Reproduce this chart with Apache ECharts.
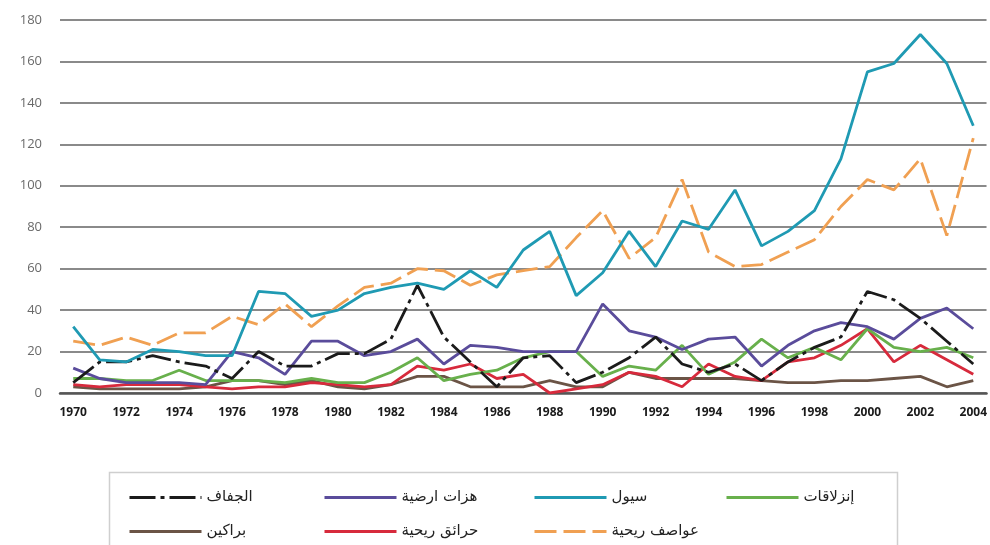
<!DOCTYPE html>
<html>
<head>
<meta charset="utf-8">
<script src="https://cdn.jsdelivr.net/npm/echarts@6/dist/echarts.min.js"></script>
<style>html,body{margin:0;padding:0;background:#fff;}#c{width:990px;height:545px;}</style>
</head>
<body>
<div id="c"></div>
<script>
const years = ['1970','1971','1972','1973','1974','1975','1976','1977','1978','1979','1980','1981','1982','1983','1984','1985','1986','1987','1988','1989','1990','1991','1992','1993','1994','1995','1996','1997','1998','1999','2000','2001','2002','2003','2004'];
const yTicks = [0, 20, 40, 60, 80, 100, 120, 140, 160, 180];
const drought   = [5,15,15,18,15,13,7,20,13,13,19,19,26,52,27,15,3,17,18,5,10,17,27,14,10,14,6,15,22,27,49,45,36,25,14];
const quakes    = [12,7,5,5,5,4,20,17,9,25,25,18,20,26,14,23,22,20,20,20,43,30,27,21,26,27,13,23,30,34,32,26,36,41,31];
const floods    = [32,16,15,21,20,18,18,49,48,37,40,48,51,53,50,59,51,69,78,47,58,78,61,83,79,98,71,78,88,113,155,159,173,159,129];
const landslides= [7,7,6,6,11,6,6,6,5,7,5,5,10,17,6,9,11,17,20,20,8,13,11,23,9,15,26,17,22,16,31,22,20,22,17];
const volcanoes = [3,2,2,2,2,3,6,6,4,6,3,2,4,8,8,3,3,3,6,3,3,10,7,7,7,7,6,5,5,6,6,7,8,3,6];
const fires     = [4,3,4,4,4,3,2,3,3,5,4,3,4,13,11,14,7,9,0,2,4,10,8,3,14,8,6,15,17,23,31,15,23,16,9];
const storms    = [25,23,27,23,29,29,37,33,43,32,42,51,53,60,59,52,57,59,61,75,88,65,75,103,68,61,62,68,74,90,103,98,113,76,123];

const names = ['الجفاف','هزات ارضية','سيول','إنزلاقات','براكين','حرائق ريحية','عواصف ريحية'];
const colors = {
  'الجفاف':'#1b1b1b','هزات ارضية':'#5a4c9b','سيول':'#1f9ab3','إنزلاقات':'#68b04c',
  'براكين':'#6b5446','حرائق ريحية':'#d72a3c','عواصف ريحية':'#f0a052'
};
function mk(name, data, type, z){
  return {name, type:'line', data, symbol:'none', z,
    lineStyle:{color:colors[name], width:2.8, type:type||'solid'},
    itemStyle:{color:colors[name]}};
}
const chart = echarts.init(document.getElementById('c'), null, {renderer:'canvas'});
const legendBase = {orient:'vertical', itemWidth:72, itemHeight:14, itemGap:19,
  itemStyle:{opacity:0}, lineStyle:{width:3},
  textStyle:{fontFamily:'DejaVu Sans', fontSize:15, color:'#222'}, top:485, selectedMode:false};
chart.setOption({
  animation:false,
  grid:{left:60, right:3, top:20, bottom:152},
  xAxis:{type:'category', data:years, boundaryGap:true,
    axisLine:{show:true, lineStyle:{color:'#555', width:2.5}},
    axisTick:{show:false},
    axisLabel:{interval:1, color:'#1a1a1a', fontWeight:'bold', fontSize:12, fontFamily:'Open Sans', margin:14}},
  yAxis:{type:'value', min:0, max:180, interval:20,
    axisLine:{show:false}, axisTick:{show:false},
    axisLabel:{color:'#6a6a6a', fontSize:13, fontFamily:'Open Sans', margin:18},
    splitLine:{lineStyle:{color:'#8a8a8a', width:1.8}}},
  graphic:[{type:'rect', left:107, top:470, shape:{width:788, height:90},
    style:{fill:'none', stroke:'#cfcfcf', lineWidth:1.5}, z:-1}],
  legend:[
    Object.assign({}, legendBase, {left:123, data:[names[0], names[4]]}),
    Object.assign({}, legendBase, {left:318, data:[names[1], names[5]]}),
    Object.assign({}, legendBase, {left:528, data:[names[2], names[6]]}),
    Object.assign({}, legendBase, {left:720, data:[names[3]]})
  ],
  series:[
    mk(names[4], volcanoes, 'solid', 2),
    mk(names[5], fires, 'solid', 3),
    mk(names[3], landslides, 'solid', 4),
    mk(names[1], quakes, 'solid', 5),
    mk(names[0], drought, [26,5,4,5], 6),
    mk(names[6], storms, [22,7], 7),
    mk(names[2], floods, 'solid', 8)
  ]
});
</script>
</body>
</html>
